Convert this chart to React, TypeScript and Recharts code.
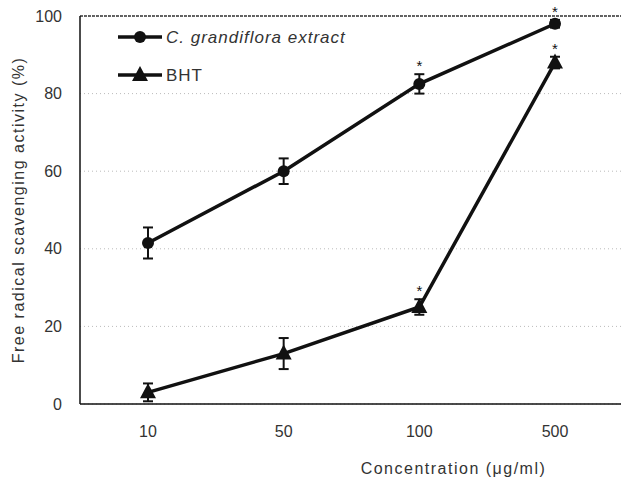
import {
  CartesianGrid,
  ComposedChart,
  ErrorBar,
  LabelList,
  Legend,
  Line,
  ReferenceLine,
  XAxis,
  YAxis,
} from "recharts";

// Concentration (µg/ml) categories and % scavenging values.
const concentrations = ["10", "50", "100", "500"];
const extractMean = [41.5, 60, 82.5, 98];
const extractErr = [4, 3.3, 2.5, 1];
const extractSig = [false, false, true, true];
const bhtMean = [3, 13, 25, 88];
const bhtErr = [2.3, 4, 2, 1.5];
const bhtSig = [false, false, true, true];
const yTicks = [0, 20, 40, 60, 80, 100];

const FONT = '"Liberation Sans", Arial, sans-serif';
const INK = "#111";
const TEXT = "#333";
const PX_PER_UNIT = 388 / 100; // plot height / y range, to lift "*" above the error cap

const data = concentrations.map((c, i) => ({
  conc: c,
  extract: extractMean[i],
  extractErr: extractErr[i],
  extractSig: extractSig[i] ? "*" : "",
  bht: bhtMean[i],
  bhtErr: bhtErr[i],
  bhtSig: bhtSig[i] ? "*" : "",
}));

function CircleDot({ cx, cy }: any) {
  if (cx == null || cy == null) return null;
  return <circle cx={cx} cy={cy} r={6} fill={INK} />;
}

function TriangleDot({ cx, cy }: any) {
  if (cx == null || cy == null) return null;
  return <path d={`M${cx},${cy - 9} L${cx + 8},${cy + 6} L${cx - 8},${cy + 6} Z`} fill={INK} />;
}

const makeStar = (errs: number[]) => ({ x, y, value, index }: any) => {
  if (!value) return null;
  const top = y - errs[index] * PX_PER_UNIT;
  return (
    <text x={x} y={top - 3} textAnchor="middle" fontFamily={FONT} fontSize={15} fill={INK}>
      {value}
    </text>
  );
};

function LegendBox() {
  const items = [
    { label: "C. grandiflora extract", italic: true, tri: false },
    { label: "BHT", italic: false, tri: true },
  ];
  return (
    <svg width={300} height={60}>
      {items.map((it, i) => {
        const y = 9 + i * 38;
        return (
          <g key={it.label}>
            <line x1={0} x2={44} y1={y} y2={y} stroke={INK} strokeWidth={3.5} />
            {it.tri ? (
              <path d={`M22,${y - 9} L30,${y + 6} L14,${y + 6} Z`} fill={INK} />
            ) : (
              <circle cx={22} cy={y} r={6} fill={INK} />
            )}
            <text
              x={48}
              y={y + 6}
              fontFamily={FONT}
              fontSize={17}
              letterSpacing={1}
              fontStyle={it.italic ? "italic" : "normal"}
              fill={TEXT}
            >
              {it.label}
            </text>
          </g>
        );
      })}
    </svg>
  );
}

export default function App() {
  return (
    <div style={{ position: "absolute", left: 0, top: 0, background: "#fff" }}>
      <ComposedChart
        width={621}
        height={479}
        data={data}
        margin={{ top: 16, right: 0, bottom: 0, left: 10 }}
      >
        <CartesianGrid vertical={false} stroke="#bbb" strokeDasharray="1 3" />
        <ReferenceLine y={100} stroke="#333" strokeDasharray="3 1" strokeWidth={1.5} />
        <XAxis
          dataKey="conc"
          height={75}
          padding={{ left: 68, right: 66 }}
          tick={{ fontFamily: FONT, fontSize: 16, fill: TEXT }}
          tickLine={false}
          axisLine={{ stroke: INK, strokeWidth: 1.5 }}
          tickMargin={16}
          label={{
            value: "Concentration (\u03bcg/ml)",
            position: "insideBottom",
            offset: 5,
            dx: 103,
            style: { fontFamily: FONT, fontSize: 16, fill: TEXT, letterSpacing: 1.5 },
          }}
        />
        <YAxis
          width={70}
          domain={[0, 100]}
          ticks={yTicks}
          tick={{ fontFamily: FONT, fontSize: 16, fill: TEXT }}
          tickLine={false}
          axisLine={{ stroke: INK, strokeWidth: 1.5 }}
          tickMargin={12}
          label={{
            value: "Free radical scavenging activity (%)",
            angle: -90,
            position: "insideLeft",
            offset: 0,
            dx: 8,
            dy: 0,
            style: { textAnchor: "middle", fontFamily: FONT, fontSize: 16, fill: TEXT, letterSpacing: 1.5 },
          }}
        />
        <Legend
          layout="vertical"
          verticalAlign="middle"
          align="center"
          content={() => <LegendBox />}
          wrapperStyle={{ left: 118, top: 28, width: 300 }}
        />
        <Line
          dataKey="extract"
          name="C. grandiflora extract"
          stroke={INK}
          strokeWidth={3.5}
          dot={<CircleDot />}
          activeDot={false}
          isAnimationActive={false}
        >
          <ErrorBar dataKey="extractErr" width={5} stroke={INK} strokeWidth={2} />
          <LabelList dataKey="extractSig" content={makeStar(extractErr)} />
        </Line>
        <Line
          dataKey="bht"
          name="BHT"
          stroke={INK}
          strokeWidth={3.5}
          dot={<TriangleDot />}
          activeDot={false}
          isAnimationActive={false}
        >
          <ErrorBar dataKey="bhtErr" width={5} stroke={INK} strokeWidth={2} />
          <LabelList dataKey="bhtSig" content={makeStar(bhtErr)} />
        </Line>
      </ComposedChart>
    </div>
  );
}
